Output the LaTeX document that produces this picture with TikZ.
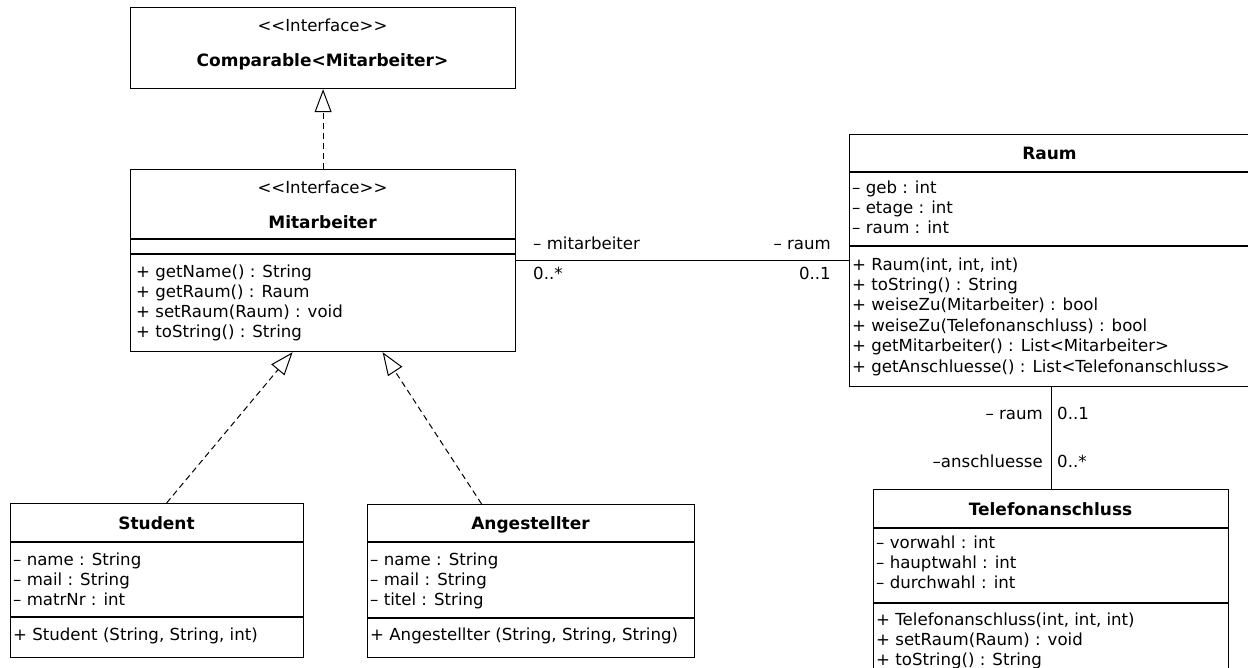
\documentclass[tikz,border=0pt]{standalone}
\usepackage{fontspec}
\setmainfont{DejaVu Sans}
\usetikzlibrary{arrows.meta}

\begin{document}
\begin{tikzpicture}[x=1pt, y=-1pt,
	classbox/.style={draw, line width=1.2pt, rectangle, anchor=north west, inner sep=0pt},
	member/.style={anchor=base west, inner sep=0pt, font=\fontsize{16.6}{20}\selectfont},
	memright/.style={anchor=base east, inner sep=0pt, font=\fontsize{16.6}{20}\selectfont},
	classname/.style={anchor=base, inner sep=0pt, font=\fontsize{17}{20}\selectfont\bfseries},
	stereo/.style={anchor=base, inner sep=0pt, font=\fontsize{16.6}{20}\selectfont},
	realize/.style={dashed, dash pattern=on 6pt off 4pt, line width=1pt,
	-{Triangle[open, length=23pt, width=17pt, line width=1pt]}},
	assoc/.style={line width=1pt}
	]
	\useasboundingbox (0,0) rectangle (1248,667);
	\clip (0,0) rectangle (1248,667);
	
	% Comparable
	\node[classbox, minimum width=385, minimum height=81] (comparable) at (130,7) {};
	\node[stereo] (compS) at (322.5,31) {<{}<Interface>{}>};
	\node[classname] (compN) at (322.5,66) {Comparable<Mitarbeiter>};
	
	% Mitarbeiter
	\node[classbox, minimum width=385, minimum height=182] (mitarbeiter) at (130,169) {};
	\node[stereo] (mitS) at (322.5,193) {<{}<Interface>{}>};
	\node[classname] (mitN) at (322.5,228) {Mitarbeiter};
	\draw[line width=1.2pt] (mitarbeiter.west |- 0,239) -- (mitarbeiter.east |- 0,239);
	\draw[line width=1.2pt] (mitarbeiter.west |- 0,254) -- (mitarbeiter.east |- 0,254);
	\foreach \txt [count=\i from 0] in {{+ getName() : String}, {+ getRaum() : Raum},
		{+ setRaum(Raum) : void}, {+ toString() : String}}
		\node[member] (mitOp\i) at (136,{277+20.3*\i}) {\txt};
	
	% Raum
	\node[classbox, minimum width=401, minimum height=252] (raum) at (849,134) {};
	\node[classname] (raumN) at (1049.5,159) {Raum};
	\draw[line width=1.2pt] (raum.west |- 0,172) -- (raum.east |- 0,172);
	\draw[line width=1.2pt] (raum.west |- 0,246) -- (raum.east |- 0,246);
	\foreach \txt [count=\i from 0] in {{– geb : int}, {– etage : int}, {– raum : int}}
		\node[member] (raumAt\i) at (852,{193+20.4*\i}) {\txt};
	\foreach \txt [count=\i from 0] in {{+ Raum(int, int, int)}, {+ toString() : String},
		{+ weiseZu(Mitarbeiter) : bool}, {+ weiseZu(Telefonanschluss) : bool},
		{+ getMitarbeiter() : List<Mitarbeiter>}, {+ getAnschluesse() : List<Telefonanschluss>}}
		\node[member] (raumOp\i) at (852,{270+20.4*\i}) {\txt};
	
	% Telefonanschluss
	\node[classbox, minimum width=355, minimum height=200] (telefon) at (873,489) {};
	\node[classname] (telN) at (1050.5,515) {Telefonanschluss};
	\draw[line width=1.2pt] (telefon.west |- 0,528) -- (telefon.east |- 0,528);
	\draw[line width=1.2pt] (telefon.west |- 0,603) -- (telefon.east |- 0,603);
	\foreach \txt [count=\i from 0] in {{– vorwahl : int}, {– hauptwahl : int}, {– durchwahl : int}}
		\node[member] (telAt\i) at (876,{548+20.4*\i}) {\txt};
	\foreach \txt [count=\i from 0] in {{+ Telefonanschluss(int, int, int)}, {+ setRaum(Raum) : void},
		{+ toString() : String}}
		\node[member] (telOp\i) at (876,{625+20.4*\i}) {\txt};
	
	% Student
	\node[classbox, minimum width=293, minimum height=154] (student) at (10,503) {};
	\node[classname] (stuN) at (156.5,529) {Student};
	\draw[line width=1.2pt] (student.west |- 0,542) -- (student.east |- 0,542);
	\draw[line width=1.2pt] (student.west |- 0,617) -- (student.east |- 0,617);
	\foreach \txt [count=\i from 0] in {{– name : String}, {– mail : String}, {– matrNr : int}}
		\node[member] (stuAt\i) at (13,{565+20*\i}) {\txt};
	\node[member] (stuOp) at (13,640) {+ Student (String, String, int)};
	
	% Angestellter
	\node[classbox, minimum width=327, minimum height=153] (angest) at (367,504) {};
	\node[classname] (angN) at (530.5,529) {Angestellter};
	\draw[line width=1.2pt] (angest.west |- 0,542) -- (angest.east |- 0,542);
	\draw[line width=1.2pt] (angest.west |- 0,618) -- (angest.east |- 0,618);
	\foreach \txt [count=\i from 0] in {{– name : String}, {– mail : String}, {– titel : String}}
		\node[member] (angAt\i) at (370,{565+20*\i}) {\txt};
	\node[member] (angOp) at (370,640) {+ Angestellter (String, String, String)};
	
	% Realisierungen
	\draw[realize] (mitarbeiter.north) to (comparable.south);
	\draw[realize] ([xshift=9.5pt]student.north) to ([xshift=-30.5pt]mitarbeiter.south);
	\draw[realize] ([xshift=-49.5pt]angest.north) to ([xshift=59.5pt]mitarbeiter.south);
	
	% Assoziationen
	\draw[assoc] (mitarbeiter.east |- 0,260) to (raum.west |- 0,260);
	\node[member] (mitRole) at (533,249) {– mitarbeiter};
	\node[member] (mitMult) at (533,279) {0..*};
	\node[memright] (raumRole) at (831,249) {– raum};
	\node[memright] (raumMult) at (831,279) {0..1};
	
	\draw[assoc] (telefon.north |- raum.south) to (telefon.north);
	\node[memright] (raumRole2) at (1043,419) {– raum};
	\node[member] (raumMult2) at (1057,419) {0..1};
	\node[memright] (telRole) at (1043,467) {–anschluesse};
	\node[member] (telMult) at (1057,467) {0..*};
\end{tikzpicture}
\end{document}
